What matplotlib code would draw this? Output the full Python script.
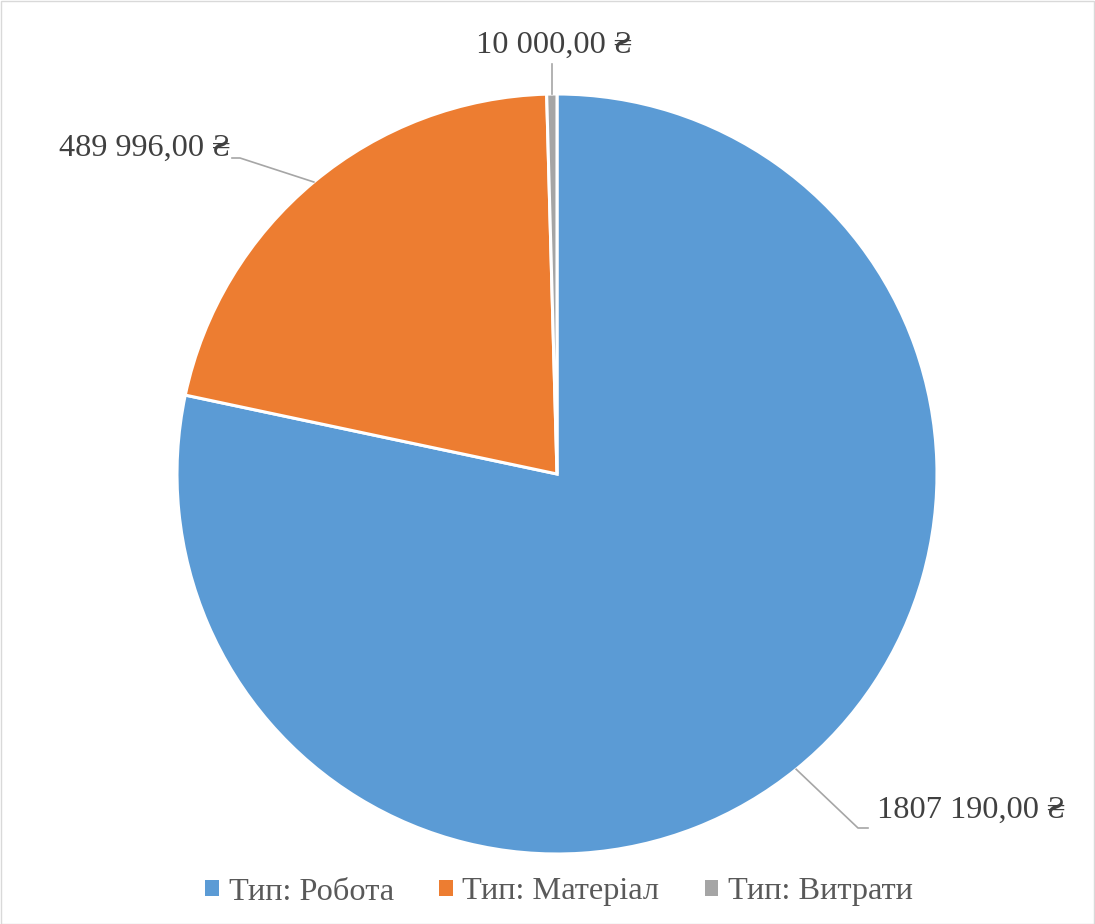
import matplotlib
matplotlib.use("Agg")
import matplotlib.pyplot as plt
from matplotlib.patches import Patch, Rectangle
import numpy as np

categories = ["Тип: Робота", "Тип: Матеріал", "Тип: Витрати"]
values = [1807190.00, 489996.00, 10000.00]
value_labels = ["1807 190,00 ₴", "489 996,00 ₴", "10 000,00 ₴"]
colors = ["#5B9BD5", "#ED7D31", "#A5A5A5"]

FONT = ["Liberation Serif", "DejaVu Serif"]
plt.rcParams["font.family"] = FONT

W, H = 1095, 924
fig = plt.figure(figsize=(W / 100, H / 100), dpi=100)
ax = fig.add_axes([0, 0, 1, 1])

cx, cy, R = 557, H - 474, 380
wedges, _ = ax.pie(values, colors=colors, startangle=90, counterclock=False,
                   center=(cx, cy), radius=R,
                   wedgeprops=dict(edgecolor="white", linewidth=2.2))
ax.set_xlim(0, W)
ax.set_ylim(0, H)
ax.set_aspect("equal")
ax.axis("off")

LFS = 23.3
layout = [
    dict(dx=10, ha="left", tdx=9, tdy=18),
    dict(dx=-8, ha="right", tdx=-2, tdy=10),
    dict(dx=0, ha="center", tdx=2, tdy=19),
]
line_col = "#A6A6A6"
for w, lab, lay in zip(wedges, value_labels, layout):
    ang = np.deg2rad((w.theta1 + w.theta2) / 2)
    x0, y0 = cx + R * np.cos(ang), cy + R * np.sin(ang)
    if lay["ha"] == "center":
        x1, y1 = x0, y0 + 30
        ax.plot([x0, x1], [y0, y1], color=line_col, lw=1.2)
        ax.text(x1 + lay["tdx"], y1 + lay["tdy"], lab, ha="center", va="center",
                fontsize=LFS, color="#404040", family=FONT)
    else:
        if lay["ha"] == "left":
            x1, y1 = 858, H - 828
        else:
            x1, y1 = 240, H - 158
        x2 = x1 + lay["dx"]
        ax.plot([x0, x1, x2], [y0, y1, y1], color=line_col, lw=1.2)
        ax.text(x2 + lay["tdx"], y1 + lay["tdy"], lab, ha=lay["ha"], va="center",
                fontsize=LFS, color="#404040", family=FONT)

handles = [Patch(facecolor=c, edgecolor="none") for c in colors]
leg = fig.legend(handles, categories, loc="center", bbox_to_anchor=(559 / W, 1 - 892 / H),
                 ncol=3, frameon=False, fontsize=23.3, handlelength=0.42, handleheight=0.42,
                 handletextpad=0.3, columnspacing=1.4, borderpad=0, borderaxespad=0)
for t in leg.get_texts():
    t.set_color("#595959")

fig.patches.append(Rectangle((0.5 / W, 0.5 / H), 1 - 1.5 / W, 1 - 1.5 / H,
                             transform=fig.transFigure, fill=False,
                             edgecolor="#D9D9D9", linewidth=1.0))
fig.savefig("out.png", dpi=100)
